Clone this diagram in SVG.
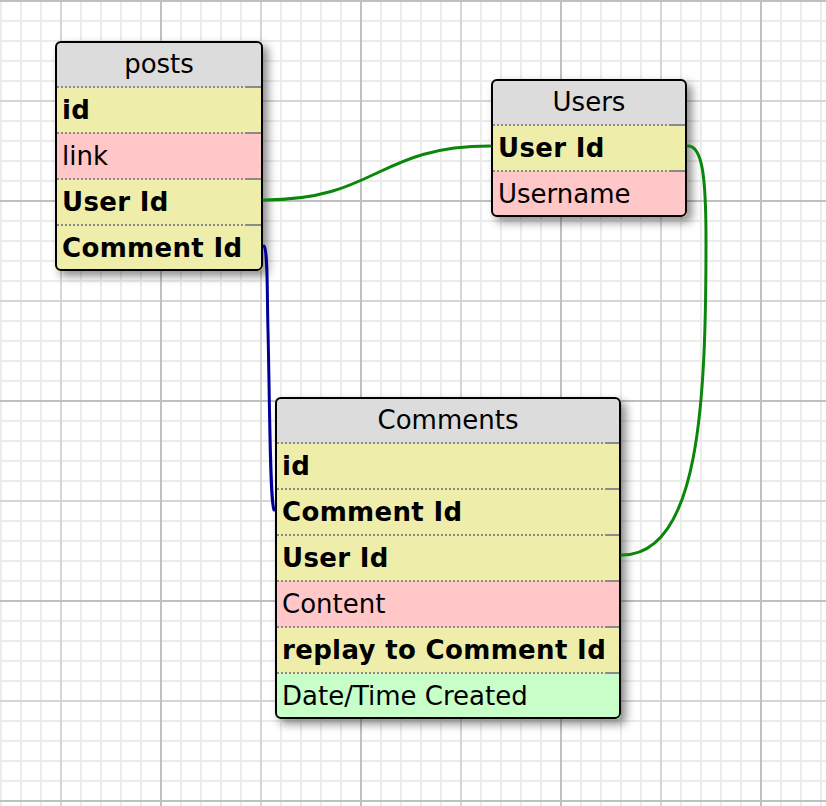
<svg xmlns="http://www.w3.org/2000/svg" width="826" height="806" viewBox="0 0 826 806">
<style>
.hdr{fill:#dcdcdc}
.key{fill:#eeeeaa}
.pnk{fill:#ffc7c7}
.grn{fill:#c8ffc8}
.sep{stroke:#8a8a8a;stroke-width:2;stroke-dasharray:2 2}
.sol{stroke:#8a8a8a;stroke-width:2}
.brd{fill:none;stroke:#000;stroke-width:2}
text{font-family:"DejaVu Sans","Verdana",sans-serif;font-size:26px;fill:#000}
.b{font-weight:bold;letter-spacing:0.35px}
.h{text-anchor:middle}
.c{fill:none;stroke-width:3;stroke-linecap:round}
.mi{stroke:#ececec;stroke-width:2}
.me{stroke:#d6d6d6;stroke-width:2}
.ma{stroke:#c0c0c0;stroke-width:2}
</style>
<defs>
<pattern id="grid" x="0" y="0" width="200" height="200" patternUnits="userSpaceOnUse">
<rect width="200" height="200" fill="#fff"/>
<path class="mi" d="M1,0V200M21,0V200M41,0V200M81,0V200M121,0V200M141,0V200M181,0V200M101,0V200M0,21H200M0,41H200M0,61H200M0,81H200M0,121H200M0,141H200M0,161H200M0,181H200"/>
<path class="me" d="M61,0V200M0,101H200"/>
<path class="ma" d="M161,0V200M0,1H200"/>
</pattern>
<filter id="sh" x="-10%" y="-10%" width="130%" height="130%">
<feDropShadow dx="5" dy="5" stdDeviation="5" flood-color="#000" flood-opacity="0.45"/>
</filter>
<clipPath id="cp-posts"><rect x="55" y="41" width="208" height="230" rx="5"/></clipPath>
<clipPath id="cp-users"><rect x="491" y="79" width="196" height="138" rx="5"/></clipPath>
<clipPath id="cp-comments"><rect x="275" y="397" width="346" height="322" rx="5"/></clipPath>
</defs>
<rect width="826" height="806" fill="url(#grid)"/>

<g id="posts">
<g filter="url(#sh)">
<rect x="55" y="41" width="208" height="230" rx="5" fill="#eeeeaa"/>
</g>
<g clip-path="url(#cp-posts)">
<rect class="hdr" x="55" y="41" width="208" height="46"/>
<rect class="key" x="55" y="87" width="208" height="46"/>
<rect class="pnk" x="55" y="133" width="208" height="46"/>
<rect class="key" x="55" y="179" width="208" height="92"/>
</g>
<path class="sep" d="M57,87H247M57,133H247M57,179H247M57,225H247"/>
<path class="sol" d="M247,87H262M247,133H262M247,179H262M247,225H262"/>
<rect class="brd" x="56" y="42" width="206" height="228" rx="5"/>
<text class="h" x="159" y="73">posts</text>
<text class="b" x="62" y="119">id</text>
<text x="62" y="165">link</text>
<text class="b" x="62" y="211">User Id</text>
<text class="b" x="62" y="257">Comment Id</text>
</g>

<g id="users">
<g filter="url(#sh)">
<rect x="491" y="79" width="196" height="138" rx="5" fill="#ffc7c7"/>
</g>
<g clip-path="url(#cp-users)">
<rect class="hdr" x="491" y="79" width="196" height="46"/>
<rect class="key" x="491" y="125" width="196" height="46"/>
<rect class="pnk" x="491" y="171" width="196" height="46"/>
</g>
<path class="sep" d="M493,125H671M493,171H671"/>
<path class="sol" d="M671,125H686M671,171H686"/>
<rect class="brd" x="492" y="80" width="194" height="136" rx="5"/>
<text class="h" x="589" y="111">Users</text>
<text class="b" x="498" y="157">User Id</text>
<text x="498" y="203">Username</text>
</g>

<g id="comments">
<g filter="url(#sh)">
<rect x="275" y="397" width="346" height="322" rx="5" fill="#c8ffc8"/>
</g>
<g clip-path="url(#cp-comments)">
<rect class="hdr" x="275" y="397" width="346" height="46"/>
<rect class="key" x="275" y="443" width="346" height="138"/>
<rect class="pnk" x="275" y="581" width="346" height="46"/>
<rect class="key" x="275" y="627" width="346" height="46"/>
<rect class="grn" x="275" y="673" width="346" height="46"/>
</g>
<path class="sep" d="M277,443H606M277,489H606M277,535H606M277,581H606M277,627H606M277,673H606"/>
<path class="sol" d="M606,443H620M606,489H620M606,535H620M606,581H620M606,627H620M606,673H620"/>
<rect class="brd" x="276" y="398" width="344" height="320" rx="5"/>
<text class="h" x="448" y="429">Comments</text>
<text class="b" x="282" y="475">id</text>
<text class="b" x="282" y="521">Comment Id</text>
<text class="b" x="282" y="567">User Id</text>
<text x="282" y="613">Content</text>
<text class="b" x="282" y="659">replay to Comment Id</text>
<text x="282" y="705">Date/Time Created</text>
</g>

<g id="connectors">
<path class="c" stroke="#0a870a" d="M264,200 C377,200 377,146 490,146"/>
<path class="c" stroke="#0a870a" d="M688,146 C702,146 706,175 706,240 C706,400 700,555 622,555"/>
<path class="c" stroke="#000099" d="M264,246 C268,250 267,300 268,330 C270,420 270,500 274,510"/>
</g>
</svg>
